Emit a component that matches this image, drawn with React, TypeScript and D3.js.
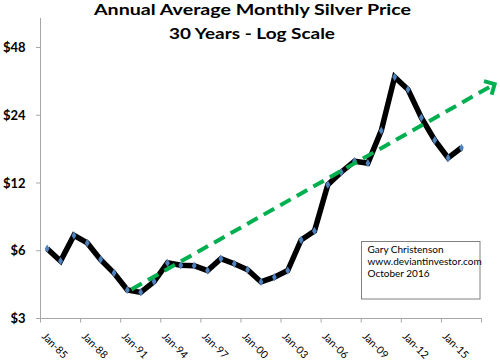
import React from "react";
import * as d3 from "d3";

const years: number[] = [
  1985, 1986, 1987, 1988, 1989, 1990, 1991, 1992, 1993, 1994, 1995, 1996, 1997, 1998, 1999, 2000,
  2001, 2002, 2003, 2004, 2005, 2006, 2007, 2008, 2009, 2010, 2011, 2012, 2013, 2014, 2015, 2016,
];
const prices: number[] = [
  6.13, 5.4, 7.02, 6.5, 5.48, 4.78, 4.02, 3.92, 4.38, 5.3, 5.17, 5.15, 4.9, 5.53, 5.25, 4.94,
  4.36, 4.58, 4.9, 6.7, 7.35, 11.8, 13.4, 15.0, 14.7, 20.5, 35.5, 31.2, 23.4, 18.6, 15.5, 17.2,
];
const xLabels: string[] = [
  "Jan-85", "Jan-88", "Jan-91", "Jan-94", "Jan-97", "Jan-00", "Jan-03", "Jan-06", "Jan-09", "Jan-12", "Jan-15",
];
const yTicks: number[] = [3, 6, 12, 24, 48];
const yTickLabels: string[] = ["$3", "$6", "$12", "$24", "$48"];
const titleLines: string[] = ["Annual Average Monthly Silver Price", "30 Years - Log Scale"];
const noteLines: string[] = ["Gary Christenson", "www.deviantinvestor.com", "October 2016"];
// trend arrow endpoints in (category position, price)
const trendCats: number[] = [6.8, 33.98];
const trendPrices: number[] = [4.04, 33.0];

const W = 500;
const H = 360;
const nCats = 33;
const FONT = "Lato, 'Open Sans', sans-serif";

export default function App() {
  const x = d3.scaleLinear().domain([0, nCats]).range([40.5, 481.5]);
  const y = d3.scaleLog().base(2).domain([3, 48]).range([318.5, 47.5]);

  const pts: [number, number][] = prices.map((p, i) => [x(i + 0.5), y(p)]);
  const line = d3.line()(pts) || "";

  const tickIdx = d3.range(0, nCats + 1, 3);

  const tx0 = x(trendCats[0]);
  const ty0 = y(trendPrices[0]);
  const tx1 = x(trendCats[1]);
  const ty1 = y(trendPrices[1]);
  const ang = Math.atan2(ty0 - ty1, tx0 - tx1);
  const armLen = 11;
  const a1 = ang + (45 * Math.PI) / 180;
  const a2 = ang - (45 * Math.PI) / 180;
  const arrow = `M${tx1 + armLen * Math.cos(a1)},${ty1 + armLen * Math.sin(a1)}L${tx1},${ty1}L${tx1 + armLen * Math.cos(a2)},${ty1 + armLen * Math.sin(a2)}`;
  const diamond = d3.symbol().type(d3.symbolDiamond).size(20)() || "";

  const axisColor = "#a6a6a6";

  return (
    <svg
      width={W}
      height={H}
      style={{ position: "absolute", left: 0, top: 0, background: "#fff" }}
      fontFamily={FONT}
    >
      <rect x={0} y={0} width={W} height={H} fill="#fff" />
      {/* title */}
      <text x={252.5} y={15} textAnchor="middle" fontSize={15.5} fontWeight="bold" fill="#000" textLength={317} lengthAdjust="spacingAndGlyphs">
        {titleLines[0]}
      </text>
      <text x={252} y={38.5} textAnchor="middle" fontSize={16} fontWeight="bold" fill="#000" textLength={166} lengthAdjust="spacingAndGlyphs">
        {titleLines[1]}
      </text>

      {/* y axis */}
      <line x1={40.5} x2={40.5} y1={18} y2={319} stroke={axisColor} strokeWidth={1} />
      {yTicks.map((t, i) => (
        <g key={t}>
          <line x1={36} x2={40.5} y1={y(t)} y2={y(t)} stroke={axisColor} />
          <text x={25.5} y={y(t)} dy="0.36em" textAnchor="end" fontSize={13} fontWeight="bold" fill="#000">
            {yTickLabels[i]}
          </text>
        </g>
      ))}

      {/* x axis */}
      <line x1={40.5} x2={482} y1={318.5} y2={318.5} stroke={axisColor} />
      {tickIdx.map((k) => (
        <line key={k} x1={x(k)} x2={x(k)} y1={318.5} y2={322.5} stroke={axisColor} />
      ))}
      {xLabels.map((lab, i) => {
        const cx = x(i * 3 + 0.5);
        return (
          <text key={lab} transform={`translate(${cx - 6},${337}) rotate(45)`} fontSize={10.5} fill="#000">
            {lab}
          </text>
        );
      })}

      {/* price line */}
      <path d={line} fill="none" stroke="#000" strokeWidth={5.5} strokeLinejoin="miter" strokeMiterlimit={4} />
      {pts.map((p, i) => (
        <path key={years[i]} d={diamond} transform={`translate(${p[0]},${p[1]})`} fill="#4f81bd" />
      ))}

      {/* trend arrow */}
      <line x1={tx0} y1={ty0} x2={tx1 - 3} y2={ty1 + 1.7} stroke="#00b050" strokeWidth={4} strokeDasharray="12 7" />
      <path d={arrow} fill="none" stroke="#00b050" strokeWidth={4} strokeLinejoin="miter" />

      {/* note box */}
      <rect x={361.5} y={241.5} width={118.5} height={57.5} fill="#fff" stroke="#808080" strokeWidth={1} />
      {noteLines.map((t, i) => (
        <text key={t} x={367.5} y={253 + i * 12} fontSize={10} fill="#000">
          {t}
        </text>
      ))}
    </svg>
  );
}
